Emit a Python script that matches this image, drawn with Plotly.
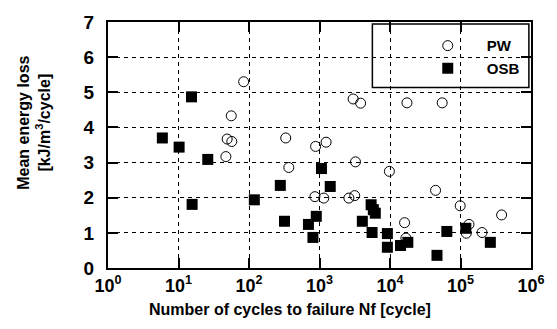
import plotly.graph_objects as go

# PW (open circles)
pw_n = [84, 56, 49, 57, 47, 332, 367, 880, 1240, 860, 1150, 2610, 3160, 3240,
        3000, 3830, 17400, 55000, 9800, 44300, 99000, 16100, 16800, 132000,
        121000, 202000, 383000]
pw_e = [5.30, 4.33, 3.67, 3.60, 3.17, 3.70, 2.86, 3.46, 3.58, 2.03, 1.99, 1.99,
        2.06, 3.02, 4.81, 4.69, 4.70, 4.70, 2.75, 2.21, 1.77, 1.29, 0.85, 1.24,
        0.99, 1.01, 1.51]

# OSB (filled squares)
osb_n = [15.3, 5.9, 10.2, 26, 15.6, 119, 278, 319, 697, 807, 900, 1066, 1420,
         4050, 5400, 5800, 6190, 5570, 9180, 9180, 14100, 17900, 46400, 64000,
         119000, 265000]
osb_e = [4.87, 3.70, 3.44, 3.09, 1.81, 1.94, 2.35, 1.33, 1.24, 0.87, 1.47, 2.83,
         2.32, 1.33, 1.80, 1.66, 1.56, 1.01, 0.98, 0.59, 0.64, 0.73, 0.36, 1.04,
         1.13, 0.73]

x_tickvals = [1, 10, 100, 1000, 10000, 100000, 1000000]
x_ticktext = ["<b>10<sup>%d</sup></b>" % i for i in range(7)]
y_tickvals = [0, 1, 2, 3, 4, 5, 6, 7]
y_ticktext = ["<b>%d</b>" % v for v in y_tickvals]

FONT = "Liberation Sans"

fig = go.Figure()
fig.add_trace(go.Scatter(
    x=pw_n, y=pw_e, mode="markers", name="<b>PW</b>",
    marker=dict(symbol="circle-open", size=10, color="black", line=dict(width=1))))
fig.add_trace(go.Scatter(
    x=osb_n, y=osb_e, mode="markers", name="<b>OSB</b>",
    marker=dict(symbol="square", size=11, color="black")))

axis_common = dict(
    showline=True, linecolor="black", linewidth=2, mirror="ticks",
    ticks="inside", tickcolor="#000000", tickwidth=1.5, ticklen=10,
    showgrid=True, gridcolor="black", gridwidth=1, griddash="4px,4px",
    zeroline=False,
)

fig.update_xaxes(
    type="log", range=[0, 6], tickmode="array", tickvals=x_tickvals, ticktext=x_ticktext,
    tickfont=dict(family=FONT, size=18, color="black", weight=700),
    **axis_common)
fig.update_yaxes(
    range=[0, 7], tickmode="array", tickvals=y_tickvals, ticktext=y_ticktext,
    ticklabelstandoff=8,
    tickfont=dict(family=FONT, size=19, color="black", weight=700),
    **axis_common)

# legend frame
fig.add_shape(type="rect", xref="paper", yref="paper",
              x0=0.625, x1=0.995, y0=0.734, y1=0.992,
              fillcolor="white", line=dict(color="black", width=1.5), layer="between")

fig.add_annotation(text="<b>Number of cycles to failure Nf [cycle]</b>",
                   xref="paper", yref="paper", x=0.43, y=-0.17,
                   xanchor="center", yanchor="middle", showarrow=False,
                   font=dict(family=FONT, size=16, color="black"))
fig.add_annotation(text="<b>Mean energy loss<br>[kJ/m<sup>3</sup>/cycle]</b>",
                   xref="paper", yref="paper", x=-0.175, y=0.59,
                   xanchor="center", yanchor="middle", showarrow=False,
                   textangle=-90,
                   font=dict(family=FONT, size=16, color="black"))

fig.update_layout(
    width=557, height=329,
    margin=dict(l=108, r=17, t=16, b=61),
    paper_bgcolor="white", plot_bgcolor="white",
    showlegend=True,
    legend=dict(x=0.711, y=0.97, xanchor="left", yanchor="top",
                bgcolor="rgba(0,0,0,0)", borderwidth=0, itemwidth=68,
                font=dict(family=FONT, size=15, color="black")),
)

fig.write_html("out.html")
